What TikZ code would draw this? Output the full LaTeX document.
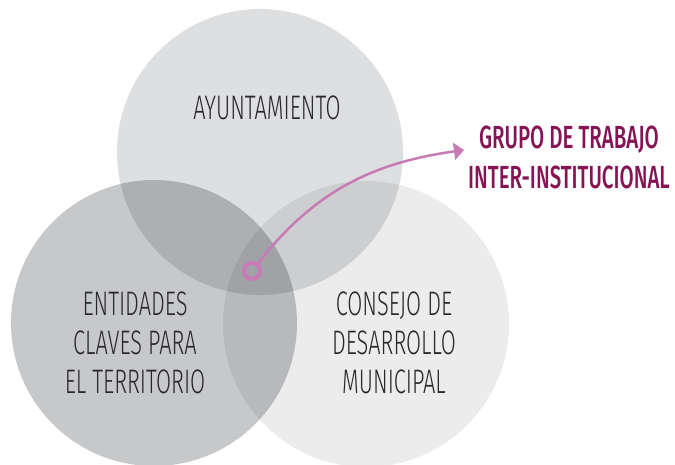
\documentclass[tikz,border=0pt]{standalone}
\usepackage{fontspec}
\usetikzlibrary{arrows.meta}
\newfontfamily\vennfont[FakeStretch=0.64]{Fira Sans Light}
\newfontfamily\grupofont[FakeStretch=0.64]{Fira Sans Medium}
\definecolor{shade}{RGB}{0,5,15}
\definecolor{grupo}{RGB}{134,20,84}
\definecolor{orchid}{RGB}{199,122,182}
\definecolor{labelgray}{RGB}{40,40,43}
\tikzstyle{venn}=[circle, minimum size=286pt, inner sep=0, fill=shade]
\tikzstyle{vennlabel}=[align=center, inner sep=0, text=labelgray, font=\vennfont\fontsize{34}{39}\selectfont]
\tikzstyle{grupolabel}=[align=center, inner sep=0, text=grupo, font=\grupofont\fontsize{32}{40}\selectfont]
\tikzstyle{ring}=[circle, draw=orchid, line width=4pt, minimum size=16pt, inner sep=0]

\begin{document}
\begin{tikzpicture}[x=1pt, y=-1pt]
      \useasboundingbox (0, 0) rectangle (675, 464);

      \node[venn, fill opacity=0.13] (ayuntamiento) at (260, 152) {};
      \node[venn, fill opacity=0.22] (entidades) at (154, 323) {};
      \node[venn, fill opacity=0.075] (consejo) at (366, 324) {};

      \node[vennlabel] (ayuntamiento_text) at (267, 108) {AYUNTAMIENTO};
      \node[vennlabel] (entidades_text) at (135, 343) {ENTIDADES\\CLAVES PARA\\EL TERRITORIO};
      \node[vennlabel] (consejo_text) at (394, 343) {CONSEJO DE\\DESARROLLO\\MUNICIPAL};

      \node[grupolabel] (grupo) at (569, 157) {GRUPO DE TRABAJO\\INTER-INSTITUCIONAL};

      \node[ring] (ring) at (252, 271) {};

      \draw[orchid, line width=2.5pt, -{Triangle[length=10pt, width=17pt]}]
        (ring) to[out=52, in=188] ([xshift=-4pt, yshift=7pt]grupo.west);
    \end{tikzpicture}
\end{document}
